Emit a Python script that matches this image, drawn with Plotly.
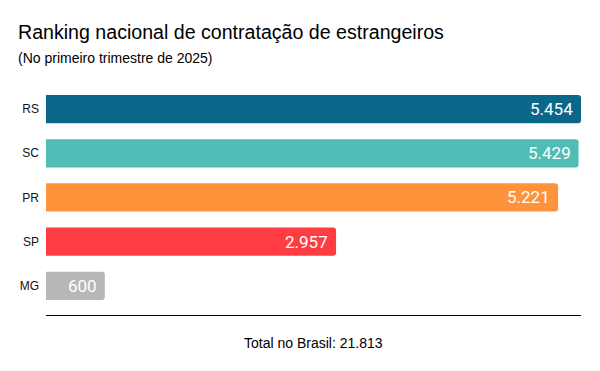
import plotly.graph_objects as go

estados = ["RS", "SC", "PR", "SP", "MG"]
valores = [5454, 5429, 5221, 2957, 600]
cores = ["#0b6789", "#50bcb6", "#fe933c", "#fe3c41", "#b7b7b7"]
titulo = "Ranking nacional de contratação de estrangeiros"
subtitulo = "(No primeiro trimestre de 2025)"
total_txt = "Total no Brasil: 21.813"


def fmt(v):
    return f"{v:,}".replace(",", ".")


# page body has an 8px margin, so the figure is drawn 8px smaller/shifted
PW, PH = 535, 228
L, T = 46 - 8, 87 - 8

fig = go.Figure()
fig.add_trace(go.Bar(
    x=valores, y=estados, orientation="h",
    marker=dict(color=cores, cornerradius=3, line=dict(width=0)),
    width=0.64, hoverinfo="skip",
))

for e, v in zip(estados, valores):
    fig.add_annotation(x=v, y=e, text=fmt(v), xref="x", yref="y",
                       xanchor="right", yanchor="middle", xshift=-6, showarrow=False,
                       font=dict(family="Roboto", size=17, color="white"))

fig.update_layout(
    width=592, height=363,
    margin=dict(l=L, r=592 - L - PW, t=T, b=363 - T - PH),
    paper_bgcolor="white", plot_bgcolor="white",
    showlegend=False,
    xaxis=dict(range=[0, 5454], visible=False, fixedrange=True, automargin=False),
    yaxis=dict(range=[4.66, -0.5], showgrid=False, zeroline=False, automargin=False,
               tickfont=dict(family="Liberation Sans, Arial", size=12, color="#111"),
               ticks="", ticklabelstandoff=6, fixedrange=True),
    font=dict(family="Liberation Sans, Arial", color="black"),
    shapes=[dict(type="line", xref="paper", yref="paper", x0=0, x1=1,
                 y0=-0.5 / PH, y1=-0.5 / PH,
                 line=dict(color="black", width=1))],
)

fig.add_annotation(text=titulo, xref="paper", yref="paper", x=(16 - 46) / PW, y=1 + (87 - 32) / PH,
                   xanchor="left", yanchor="middle", showarrow=False,
                   font=dict(family="Liberation Sans, Arial", size=19.6, color="black"))
fig.add_annotation(text=subtitulo, xref="paper", yref="paper", x=(16 - 46) / PW, y=1 + (87 - 58) / PH,
                   xanchor="left", yanchor="middle", showarrow=False,
                   font=dict(family="Liberation Sans, Arial", size=14, color="black"))
fig.add_annotation(text=total_txt, xref="paper", yref="paper", x=(313 - 46) / PW, y=-(343 - 315) / PH,
                   xanchor="center", yanchor="middle", showarrow=False,
                   font=dict(family="Liberation Sans, Arial", size=14, color="black"))

fig.write_html("out.html")
